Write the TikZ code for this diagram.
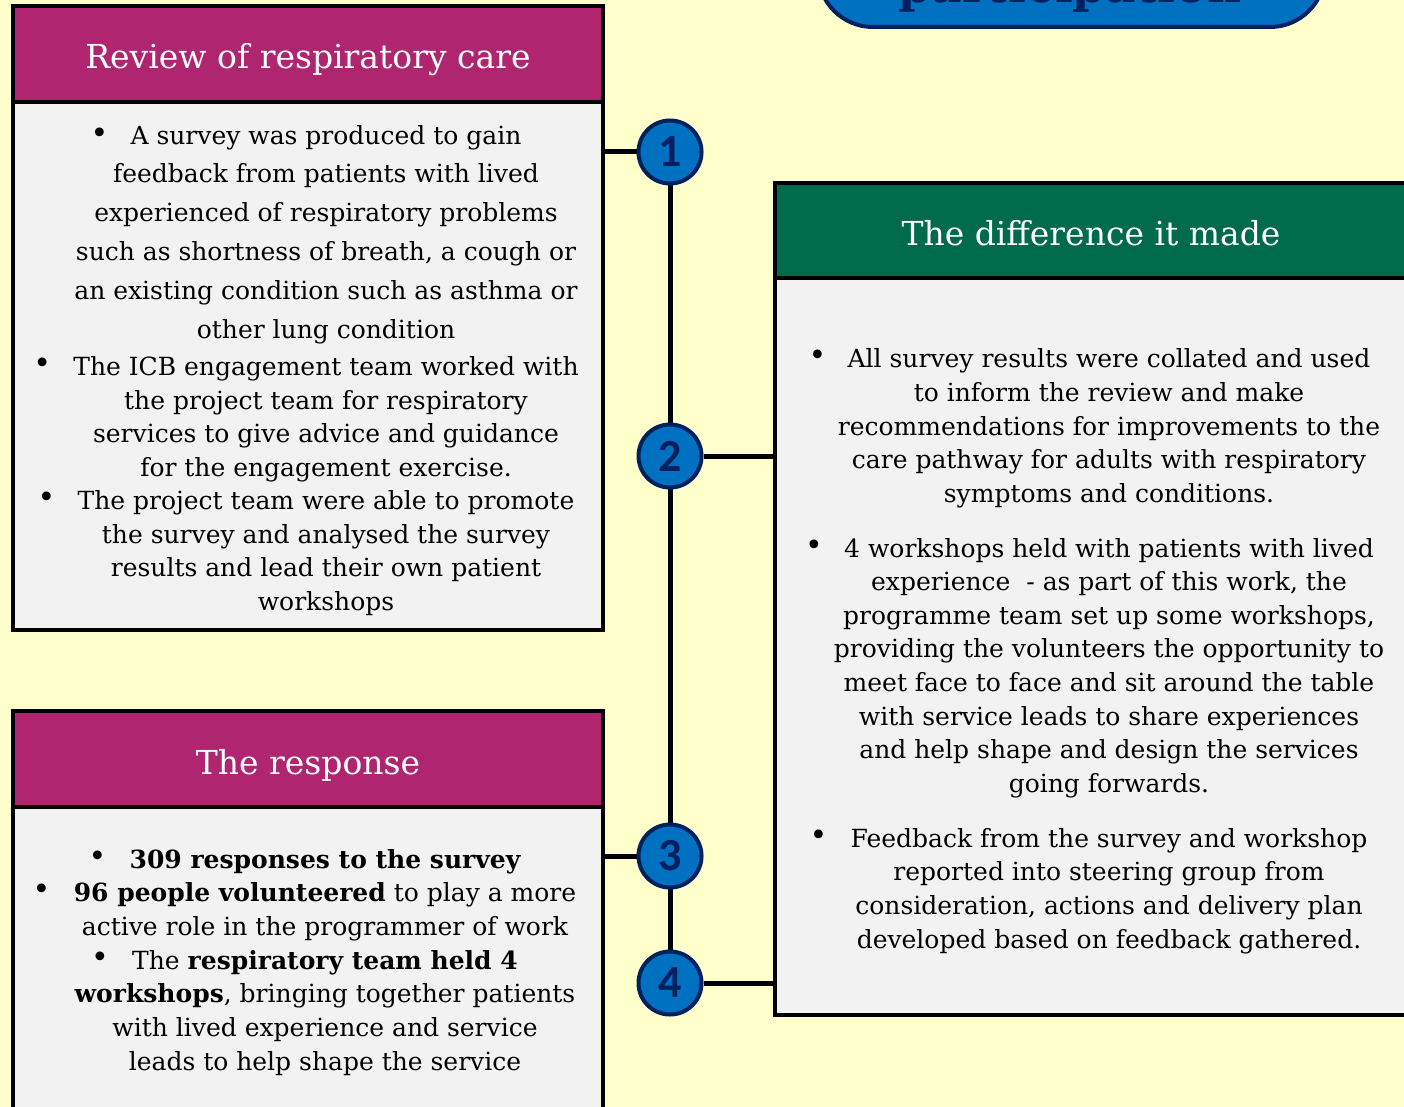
\documentclass[tikz,border=0pt]{standalone}
\usepackage{fontspec}
\setmainfont{DejaVu Serif}
\newfontfamily\numfont{Carlito}
\definecolor{pagebg}{HTML}{FFFFCC}
\definecolor{magh}{HTML}{AF2570}
\definecolor{greenh}{HTML}{006B4A}
\definecolor{panelbg}{HTML}{F2F2F2}
\definecolor{cblue}{HTML}{0070C0}
\definecolor{navy}{HTML}{002060}
\pgfdeclarelayer{back}
\pgfdeclarelayer{links}
\pgfsetlayers{back,links,main}
\tikzset{
  body/.style={anchor=base, inner sep=0, font=\fontsize{25}{30}\selectfont},
  hdr/.style={anchor=base, inner sep=0, text=white, font=\fontsize{33}{40}\selectfont},
  bul/.style={anchor=center, inner sep=0, font=\fontsize{30}{32}\selectfont},
  num/.style={circle, draw=navy, fill=cblue, line width=4, minimum size=63, inner sep=0, text=navy, font=\numfont\bfseries\fontsize{46}{46}\selectfont},
  panel/.style={rectangle, fill=panelbg, inner sep=0, draw=none},
  conn/.style={line width=5, black},
  frame/.style={line width=4.5, black},
}
\begin{document}
\begin{tikzpicture}[x=1pt, y=-1pt]
\useasboundingbox (0,0) rectangle (1404,1107);
\clip (0,0) rectangle (1404,1107);
\begin{pgfonlayer}{back}
\fill[pagebg] (0,0) rectangle (1404,1107);
\draw[fill=cblue, draw=navy, line width=4, rounded corners=55] (818,-120) rectangle (1325,27);
\end{pgfonlayer}
\node[anchor=base, inner sep=0, text=navy, font=\bfseries\fontsize{47}{50}\selectfont] (ptitle) at (1070,3) {participation};

% panels
\node[panel, minimum width=590, minimum height=624] (b1) at (308,318) {};
\node[panel, minimum width=590, minimum height=414] (b2) at (308,918) {};
\node[panel, minimum width=655, minimum height=832] (b3) at (1102.5,599) {};

% circles
\node[num] (c1) at (670,152) {1};
\node[num] (c2) at (670,456) {2};
\node[num] (c3) at (670,856) {3};
\node[num] (c4) at (670,983) {4};

% connectors (behind circles)
\begin{pgfonlayer}{links}
\draw[conn] (c1) -- (c4);
\draw[conn] (c1) -- (c1 -| b1.east);
\draw[conn] (c2) -- (c2 -| b3.west);
\draw[conn] (c3) -- (c3 -| b2.east);
\draw[conn] (c4) -- (c4 -| b3.west);
\end{pgfonlayer}

% headers
\fill[magh] (b1.north west) rectangle ([yshift=-96]b1.north east);
\fill[magh] (b2.north west) rectangle ([yshift=-96]b2.north east);
\fill[greenh] (b3.north west) rectangle ([yshift=-95]b3.north east);
\draw[frame] (b1.north west) rectangle (b1.south east);
\draw[frame] ([yshift=-96]b1.north west) -- ([yshift=-96]b1.north east);
\draw[frame] (b2.north west) rectangle (b2.south east);
\draw[frame] ([yshift=-96]b2.north west) -- ([yshift=-96]b2.north east);
\draw[frame] (b3.north west) rectangle (b3.south east);
\draw[frame] ([yshift=-95]b3.north west) -- ([yshift=-95]b3.north east);

\node[hdr] (h1) at (308,69) {Review of respiratory care};
\node[hdr] (h2) at (308,774) {The response};
\node[hdr] (h3) at (1091,246) {The difference it made};

% box 1 text
\node[body] (a1) at (326,145) {A survey was produced to gain};
\node[body] (a2) at (326,183) {feedback from patients with lived};
\node[body] (a3) at (326,222) {experienced of respiratory problems};
\node[body] (a4) at (326,261) {such as shortness of breath, a cough or};
\node[body] (a5) at (326,299) {an existing condition such as asthma or};
\node[body] (a6) at (326,338) {other lung condition};
\node[body] (a7) at (326,375) {The ICB engagement team worked with};
\node[body] (a8) at (326,409) {the project team for respiratory};
\node[body] (a9) at (326,442) {services to give advice and guidance};
\node[body] (a10) at (326,476) {for the engagement exercise.};
\node[body] (a11) at (326,509) {The project team were able to promote};
\node[body] (a12) at (326,543) {the survey and analysed the survey};
\node[body] (a13) at (326,576) {results and lead their own patient};
\node[body] (a14) at (326,610) {workshops};
\node[bul] (ua1) at ([xshift=-31, yshift=9]a1.base west) {\textbullet};
\node[bul] (ua7) at ([xshift=-31, yshift=9]a7.base west) {\textbullet};
\node[bul] (ua11) at ([xshift=-31, yshift=9]a11.base west) {\textbullet};

% box 2 text
\node[body] (r1) at (325,868) {\bfseries 309 responses to the survey};
\node[body] (r2) at (325,901) {{\bfseries 96 people volunteered} to play a more};
\node[body] (r3) at (325,935) {active role in the programmer of work};
\node[body] (r4) at (325,969) {The {\bfseries respiratory team held 4}};
\node[body] (r5) at (325,1002) {{\bfseries workshops}, bringing together patients};
\node[body] (r6) at (325,1036) {with lived experience and service};
\node[body] (r7) at (325,1070) {leads to help shape the service};
\node[bul] (ur1) at ([xshift=-32, yshift=9]r1.base west) {\textbullet};
\node[bul] (ur2) at ([xshift=-32, yshift=9]r2.base west) {\textbullet};
\node[bul] (ur4) at ([xshift=-32, yshift=9]r4.base west) {\textbullet};

% box 3 text
\node[body] (d1) at (1109,367) {All survey results were collated and used};
\node[body] (d2) at (1109,401) {to inform the review and make};
\node[body] (d3) at (1109,435) {recommendations for improvements to the};
\node[body] (d4) at (1109,468) {care pathway for adults with respiratory};
\node[body] (d5) at (1109,502) {symptoms and conditions.};
\node[body] (d6) at (1109,557) {4 workshops held with patients with lived};
\node[body] (d7) at (1109,590) {experience\ \ - as part of this work, the};
\node[body] (d8) at (1109,624) {programme team set up some workshops,};
\node[body] (d9) at (1109,657) {providing the volunteers the opportunity to};
\node[body] (d10) at (1109,691) {meet face to face and sit around the table};
\node[body] (d11) at (1109,725) {with service leads to share experiences};
\node[body] (d12) at (1109,758) {and help shape and design the services};
\node[body] (d13) at (1109,792) {going forwards.};
\node[body] (d14) at (1109,847) {Feedback from the survey and workshop};
\node[body] (d15) at (1109,880) {reported into steering group from};
\node[body] (d16) at (1109,914) {consideration, actions and delivery plan};
\node[body] (d17) at (1109,948) {developed based on feedback gathered.};
\node[bul] (ud1) at ([xshift=-30, yshift=9]d1.base west) {\textbullet};
\node[bul] (ud6) at ([xshift=-30, yshift=9]d6.base west) {\textbullet};
\node[bul] (ud14) at ([xshift=-32, yshift=9]d14.base west) {\textbullet};
\end{tikzpicture}
\end{document}
